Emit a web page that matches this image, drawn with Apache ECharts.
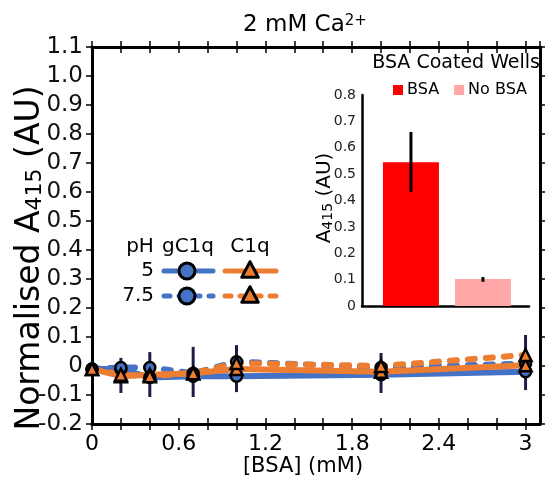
<!DOCTYPE html>
<html><head><meta charset="utf-8">
<script src="https://cdn.jsdelivr.net/npm/echarts@6/dist/echarts.min.js"></script>
<style>html,body{margin:0;padding:0;background:#fff}#c{width:545px;height:481px}</style>
</head><body><div id="c"></div>
<script>
// ---------- data ----------
const bsaConc = [0, 0.2, 0.4, 0.7, 1.0, 2.0, 3.0];
const gC1q_pH5 = [-0.01, -0.01, -0.04, -0.035, -0.035, -0.03, -0.02];
const gC1q_pH75 = [-0.01, -0.005, -0.005, -0.025, 0.015, -0.005, 0.008];
const C1q_pH5 = [-0.01, -0.035, -0.03, -0.025, -0.01, -0.02, 0.003];
const C1q_pH75 = [-0.01, -0.03, -0.035, -0.025, 0.01, 0.0, 0.038];
const errLow = [-0.01, -0.093, -0.107, -0.107, -0.09, -0.093, -0.083];
const errHigh = [-0.01, 0.028, 0.048, 0.066, 0.072, 0.045, 0.107];
const xTickLabels = ['0', '0.6', '1.2', '1.8', '2.4', '3'];

const insetCategories = ['BSA', 'No BSA'];
const insetValues = [0.545, 0.102];
const insetErrLow = [0.433, 0.092];
const insetErrHigh = [0.66, 0.11];

// ---------- styling ----------
const FONT = "'DejaVu Sans', Verdana, sans-serif";
const BLUE = '#4472c4', ORANGE = '#ed7d31', NAVY = '#1b1e48';
const INSET_COLORS = ['#ff0000', '#ffa7a7'];

const zip = (xs, ys) => xs.map((x, i) => [x, ys[i]]);
const yFmt = v => Math.abs(v) < 1e-9 ? '0' : v.toFixed(1);
const xFmt = v => { const k = Math.round(v / 0.6); return (Math.abs(v - k * 0.6) < 1e-6 && k < xTickLabels.length) ? xTickLabels[k] : ''; };

const mainRect = { left: 92, right: 5, top: 47, bottom: 57 };
const axisLineStyle = { color: '#000', width: 3 };
const tickStyle = { color: '#000', width: 1.5 };

const xMain = { type: 'value', min: 0, max: 3.1, interval: 0.2, splitLine: { show: false } };
const yMain = { type: 'value', min: -0.2, max: 1.1, interval: 0.1, splitLine: { show: false } };

const lineDefs = [
  { name: 'gC1q pH 5', data: gC1q_pH5, color: BLUE, dashed: false, symbol: 'circle' },
  { name: 'gC1q pH 7.5', data: gC1q_pH75, color: BLUE, dashed: true, symbol: 'circle' },
  { name: 'C1q pH 5', data: C1q_pH5, color: ORANGE, dashed: false, symbol: 'triangle' },
  { name: 'C1q pH 7.5', data: C1q_pH75, color: ORANGE, dashed: true, symbol: 'triangle' }
];

const series = [];
lineDefs.forEach((d, i) => {
  series.push({
    type: 'line', name: d.name, xAxisIndex: 0, yAxisIndex: 0,
    data: zip(bsaConc, d.data), showSymbol: false, z: 2 + i * 0.1,
    lineStyle: { color: d.color, width: 6, type: d.dashed ? [7, 11] : 'solid', cap: 'round', join: 'round' },
    silent: true
  });
});
series.push({
  type: 'custom', name: 'err', xAxisIndex: 0, yAxisIndex: 0, z: 4,
  data: bsaConc.map((x, i) => [x, errLow[i], errHigh[i]]),
  renderItem: (params, api) => {
    const a = api.coord([api.value(0), api.value(1)]);
    const b = api.coord([api.value(0), api.value(2)]);
    return { type: 'line', shape: { x1: a[0], y1: a[1], x2: b[0], y2: b[1] }, style: { stroke: NAVY, lineWidth: 3 } };
  }
});
lineDefs.forEach((d, i) => {
  series.push({
    type: 'scatter', name: d.name + ' m', xAxisIndex: 0, yAxisIndex: 0, z: 5 + i * 0.1,
    data: zip(bsaConc, d.data), symbol: d.symbol, symbolSize: d.symbol === 'circle' ? 11 : 12,
    itemStyle: { color: d.color, borderColor: '#000', borderWidth: 2.5, opacity: 1 }
  });
});
insetCategories.forEach((name, i) => {
  series.push({
    type: 'bar', name, xAxisIndex: 4, yAxisIndex: 2, barWidth: 56, barGap: '-100%',
    data: [[i + 1, insetValues[i]]], itemStyle: { color: INSET_COLORS[i] }
  });
});
series.push({
  type: 'custom', name: 'insetErr', xAxisIndex: 4, yAxisIndex: 2, z: 6,
  data: insetCategories.map((c, i) => [i + 1, insetErrLow[i], insetErrHigh[i]]),
  renderItem: (params, api) => {
    const a = api.coord([api.value(0), api.value(1)]);
    const b = api.coord([api.value(0), api.value(2)]);
    return { type: 'line', shape: { x1: a[0], y1: a[1], x2: b[0], y2: b[1] }, style: { stroke: '#000', lineWidth: 3 } };
  }
});

// ---------- legend graphics (main) ----------
const legFont = { fontSize: 20, fontFamily: FONT, fill: '#000' };
const tri = (cx, cy, s) => [[cx, cy - s * 0.62], [cx + s * 0.55, cy + s * 0.42], [cx - s * 0.55, cy + s * 0.42]];
const legendRows = [{ label: '5', y: 271, dash: null }, { label: '7.5', y: 296, dash: [6, 9] }];
const graphic = [
  { type: 'text', x: 305, y: 25, style: { text: '2 mM Ca{sup|2+}', fontSize: 23, fontFamily: FONT, fill: '#000', align: 'center', verticalAlign: 'middle', rich: { sup: { fontSize: 15, fontFamily: FONT, verticalAlign: 'top', lineHeight: 15 } } } },
  { type: 'text', x: 303, y: 467, style: { text: '[BSA] (mM)', fontSize: 21, fontFamily: FONT, fill: '#000', align: 'center', verticalAlign: 'middle' } },
  { type: 'text', x: 30, y: 258, rotation: Math.PI / 2, style: { text: 'Normalised A{sub|415} (AU)', fontSize: 33, fontFamily: FONT, fill: '#000', align: 'center', verticalAlign: 'middle', rich: { sub: { fontSize: 22, fontFamily: FONT, verticalAlign: 'bottom', lineHeight: 17 } } } },
  { type: 'text', x: 325, y: 198, rotation: Math.PI / 2, style: { text: 'A{sub|415} (AU)', fontSize: 20, fontFamily: FONT, fill: '#000', align: 'center', verticalAlign: 'middle', rich: { sub: { fontSize: 14, fontFamily: FONT, verticalAlign: 'bottom', lineHeight: 11 } } } },
  { type: 'text', x: 540, y: 63, style: { text: 'BSA Coated Wells', fontSize: 19, fontFamily: FONT, fill: '#000', align: 'right', verticalAlign: 'middle' } },
  { type: 'text', x: 140, y: 247, style: Object.assign({ text: 'pH', align: 'center', verticalAlign: 'middle' }, legFont) },
  { type: 'text', x: 188, y: 247, style: Object.assign({ text: 'gC1q', align: 'center', verticalAlign: 'middle' }, legFont) },
  { type: 'text', x: 250, y: 247, style: Object.assign({ text: 'C1q', align: 'center', verticalAlign: 'middle' }, legFont) }
];
legendRows.forEach(r => {
  graphic.push({ type: 'text', x: 154, y: r.y, style: Object.assign({ text: r.label, align: 'right', verticalAlign: 'middle' }, legFont) });
  graphic.push({ type: 'line', shape: { x1: 164, y1: r.y, x2: 213, y2: r.y }, style: { stroke: BLUE, lineWidth: 5, lineDash: r.dash, lineCap: 'round' } });
  graphic.push({ type: 'line', shape: { x1: 225, y1: r.y, x2: 276, y2: r.y }, style: { stroke: ORANGE, lineWidth: 5, lineDash: r.dash, lineCap: 'round' } });
  graphic.push({ type: 'circle', shape: { cx: 187, cy: r.y, r: 8 }, style: { fill: BLUE, stroke: '#000', lineWidth: 3 } });
  graphic.push({ type: 'polygon', shape: { points: tri(250, r.y, 15) }, style: { fill: ORANGE, stroke: '#000', lineWidth: 3, lineJoin: 'round' } });
});

const option = {
  animation: false,
  backgroundColor: '#fff',
  textStyle: { fontFamily: FONT },
  grid: [
    Object.assign({}, mainRect),
    { left: 362, top: 95, width: 167, height: 211 },
    Object.assign({}, mainRect)
  ],
  legend: {
    data: insetCategories, left: 388, top: 77, itemWidth: 10, itemHeight: 10, itemGap: 15, icon: 'rect',
    textStyle: { fontSize: 16, fontFamily: FONT, color: '#000', padding: [0, 0, 0, -1] }
  },
  xAxis: [
    Object.assign({}, xMain, { gridIndex: 0, position: 'bottom', axisLine: { onZero: false, lineStyle: axisLineStyle }, axisTick: { length: 6, lineStyle: tickStyle }, axisLabel: { formatter: xFmt, fontSize: 22, fontFamily: FONT, color: '#000', margin: 9, showMaxLabel: false } }),
    Object.assign({}, xMain, { gridIndex: 0, position: 'top', axisLine: { onZero: false, lineStyle: axisLineStyle }, axisTick: { length: 6, lineStyle: tickStyle }, axisLabel: { show: false } }),
    Object.assign({}, xMain, { gridIndex: 2, position: 'bottom', axisLine: { show: false, onZero: false }, axisTick: { inside: true, length: 6, lineStyle: tickStyle }, axisLabel: { show: false } }),
    Object.assign({}, xMain, { gridIndex: 2, position: 'top', axisLine: { show: false, onZero: false }, axisTick: { inside: true, length: 6, lineStyle: tickStyle }, axisLabel: { show: false } }),
    { type: 'value', gridIndex: 1, min: 0.32, max: 2.64, splitLine: { show: false }, axisLine: { onZero: false, lineStyle: { color: '#000', width: 2.5 } }, axisTick: { show: false }, axisLabel: { show: false } }
  ],
  yAxis: [
    Object.assign({}, yMain, { gridIndex: 0, position: 'left', axisLine: { onZero: false, lineStyle: axisLineStyle }, axisTick: { length: 6, lineStyle: tickStyle }, axisLabel: { formatter: yFmt, fontSize: 23, fontFamily: FONT, color: '#111', margin: 9 } }),
    Object.assign({}, yMain, { gridIndex: 0, position: 'right', axisLine: { show: true, onZero: false, lineStyle: axisLineStyle }, axisTick: { length: 6, lineStyle: tickStyle }, axisLabel: { show: false } }),
    { type: 'value', gridIndex: 1, min: 0, max: 0.8, interval: 0.1, splitLine: { show: false }, axisLine: { show: true, onZero: false, lineStyle: { color: '#000', width: 2.5 } }, axisTick: { show: false }, axisLabel: { formatter: yFmt, fontSize: 14, fontFamily: FONT, color: '#222', margin: 6 } },
    Object.assign({}, yMain, { gridIndex: 2, axisLine: { show: false, onZero: false }, axisTick: { show: false }, axisLabel: { show: false } })
  ],
  series,
  graphic
};
const chart = echarts.init(document.getElementById('c'), null, { renderer: 'canvas' });
chart.setOption(option);
</script>
</body></html>
